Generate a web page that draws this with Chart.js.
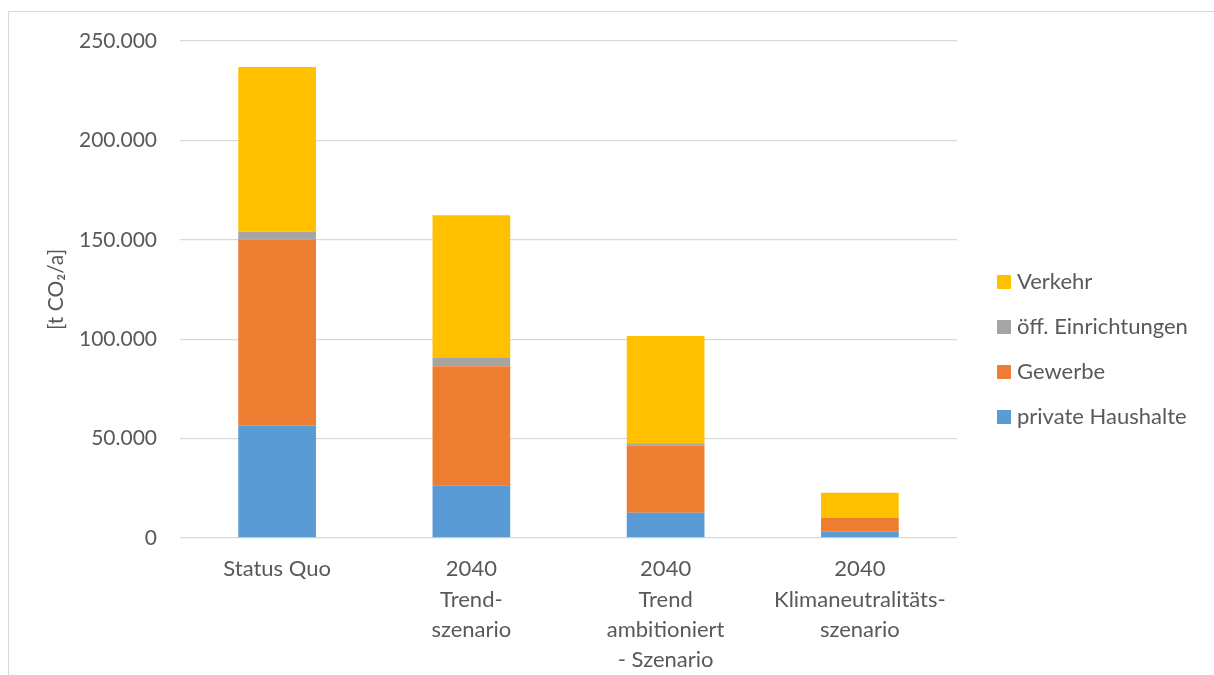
<!DOCTYPE html>
<html>
<head>
<meta charset="utf-8">
<script src="https://cdn.jsdelivr.net/npm/chart.js@4.4.1/dist/chart.umd.min.js"></script>
<style>
  html, body { margin: 0; padding: 0; background: #ffffff; }
  #wrap { position: relative; width: 1214px; height: 675px; overflow: hidden; }
  #frame { position: absolute; left: 8px; top: 11px; width: 1220px; height: 680px;
           border-left: 1.5px solid #d9d9d9; border-top: 1.5px solid #d9d9d9; box-sizing: border-box; }
  canvas { position: absolute; left: 0; top: 0; }
</style>
</head>
<body>
<div id="wrap">
  <div id="frame"></div>
  <canvas id="c" width="1214" height="675"></canvas>
</div>
<script>
// ---- data ----
const categories = [
  ["Status Quo"],
  ["2040", "Trend-", "szenario"],
  ["2040", "Trend", "ambitioniert", "- Szenario"],
  ["2040", "Klimaneutralitäts-", "szenario"]
];
const seriesNames = ["private Haushalte", "Gewerbe", "öff. Einrichtungen", "Verkehr"];
const privateHaushalte = [56500, 26500, 12700, 3200];
const gewerbe = [93600, 59900, 33700, 7000];
const oeffEinrichtungen = [4000, 4100, 1200, 300];
const verkehr = [82800, 71800, 54000, 12300];
const yTicks = [0, 50000, 100000, 150000, 200000, 250000];
const yTitle = "[t CO\u2082/a]";

const colors = ["#5B9BD5", "#ED7D31", "#A5A5A5", "#FFC000"];
const textColor = "#595959";
const fontFamily = "Lato, 'Open Sans', 'DejaVu Sans', sans-serif";

function fmt(v) {
  return String(Math.round(v)).replace(/\B(?=(\d{3})+(?!\d))/g, ".");
}

const sideLegend = {
  id: 'sideLegend',
  afterDraw(chart) {
    const ctx = chart.ctx;
    const area = chart.chartArea;
    const ds = chart.data.datasets;
    const rowGap = 45;
    const mid = (area.top + area.bottom) / 2 + 59;
    const startY = mid - rowGap * (ds.length - 1) / 2;
    const boxX = area.right + 40;
    ctx.save();
    ctx.font = "22px " + fontFamily;
    ctx.textBaseline = "middle";
    ctx.textAlign = "left";
    for (let i = ds.length - 1, row = 0; i >= 0; i--, row++) {
      const y = startY + row * rowGap;
      ctx.fillStyle = ds[i].backgroundColor;
      ctx.fillRect(boxX, y - 6, 14, 14);
      ctx.fillStyle = textColor;
      ctx.fillText(ds[i].label, boxX + 20, y + 1);
    }
    ctx.restore();
  }
};

const seriesData = [privateHaushalte, gewerbe, oeffEinrichtungen, verkehr];

new Chart(document.getElementById('c'), {
  type: 'bar',
  data: {
    labels: categories,
    datasets: seriesNames.map((name, i) => ({
      label: name,
      data: seriesData[i],
      backgroundColor: colors[i],
      borderWidth: 0,
      categoryPercentage: 1.0,
      barPercentage: 0.4
    }))
  },
  options: {
    responsive: false,
    animation: false,
    devicePixelRatio: 1,
    layout: { padding: { left: 0, top: 41, right: 257, bottom: 0 } },
    plugins: {
      legend: { display: false },
      tooltip: { enabled: false },
      title: { display: false }
    },
    scales: {
      x: {
        stacked: true,
        grid: { display: false, drawTicks: false },
        border: { display: false },
        ticks: {
          color: textColor,
          font: { family: fontFamily, size: 22, lineHeight: 1.38 },
          padding: 16,
          maxRotation: 0,
          minRotation: 0,
          autoSkip: false
        },
        afterFit(scale) { scale.height = 137; }
      },
      y: {
        stacked: true,
        min: 0,
        max: 250000,
        afterBuildTicks(scale) { scale.ticks = yTicks.map(v => ({ value: v })); },
        grid: { color: "#d9d9d9", lineWidth: 1.3, drawTicks: false },
        border: { display: false },
        ticks: {
          color: textColor,
          font: { family: fontFamily, size: 21 },
          padding: 23,
          callback: (v) => fmt(v)
        },
        title: {
          display: true,
          text: yTitle,
          color: textColor,
          font: { family: fontFamily, size: 21, lineHeight: 1.2 },
          padding: { top: 44, bottom: 0 }
        },
        afterFit(scale) { scale.width = 180; }
      }
    }
  },
  plugins: [sideLegend]
});
</script>
</body>
</html>
